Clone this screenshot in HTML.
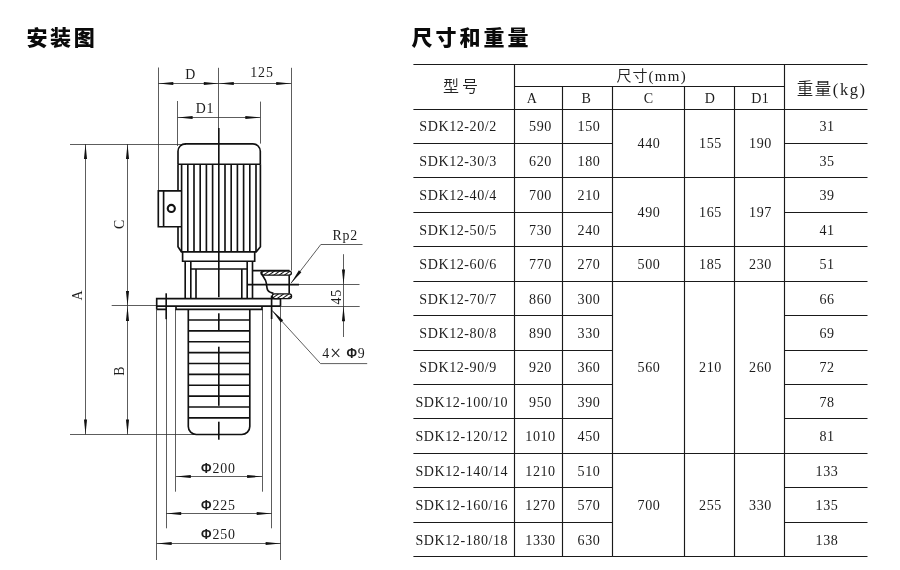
<!DOCTYPE html>
<html lang="zh-CN">
<head>
<meta charset="utf-8">
<title>安装图 尺寸和重量</title>
<style>
html,body{margin:0;padding:0;background:#fff;}
body{width:900px;height:570px;overflow:hidden;position:relative;font-family:"Liberation Serif","Noto Serif CJK SC",serif;}
svg{position:absolute;left:0;top:0;display:block;will-change:transform;}
.k{stroke:#111;stroke-width:1.65;fill:none;stroke-linecap:butt;stroke-linejoin:miter;}
.n{stroke:#333;stroke-width:0.8;fill:none;}
.a{fill:#111;stroke:none;}
.t{stroke:#1a1a1a;stroke-width:1.15;}
.s{font-family:"Liberation Serif","Noto Serif CJK SC",serif;fill:#1c1c1c;font-weight:400;}
.h{font-family:"Liberation Serif","Noto Sans CJK SC",sans-serif;fill:#222;font-weight:350;}
.p{font-family:"Liberation Sans","DejaVu Sans",sans-serif;font-weight:700;}
.b{font-family:"Liberation Sans","Noto Sans CJK SC",sans-serif;fill:#0a0a0a;font-weight:900;}
</style>
</head>
<body>
<svg width="900" height="570" viewBox="0 0 900 570">
<defs>
<pattern id="h" width="3" height="3" patternUnits="userSpaceOnUse" patternTransform="rotate(-35)">
<rect width="3" height="3" fill="#fff"/><line x1="0" y1="1.5" x2="3" y2="1.5" stroke="#111" stroke-width="1.0"/>
</pattern>
</defs>
<rect width="900" height="570" fill="#fff"/>
<text x="26.5" y="45.3" font-size="21" class="b" letter-spacing="2.6">安装图</text>
<text x="411.6" y="45.3" font-size="21" class="b" letter-spacing="3">尺寸和重量</text>
<g id="drawing">
<line x1="158.50" y1="67.50" x2="158.50" y2="190.80" class="n"/>
<line x1="218.50" y1="67.80" x2="218.50" y2="128.00" class="n"/>
<line x1="291.50" y1="67.80" x2="291.50" y2="270.60" class="n"/>
<line x1="158.30" y1="83.50" x2="291.20" y2="83.50" class="n"/>
<polygon points="158.30,83.50 173.30,81.95 173.30,85.05" class="a"/>
<polygon points="218.80,83.50 203.80,85.05 203.80,81.95" class="a"/>
<polygon points="218.80,83.50 233.80,81.95 233.80,85.05" class="a"/>
<polygon points="291.20,83.50 276.20,85.05 276.20,81.95" class="a"/>
<line x1="177.50" y1="101.00" x2="177.50" y2="146.00" class="n"/>
<line x1="260.50" y1="101.60" x2="260.50" y2="143.60" class="n"/>
<line x1="177.60" y1="117.50" x2="260.30" y2="117.50" class="n"/>
<polygon points="177.60,117.50 192.60,115.95 192.60,119.05" class="a"/>
<polygon points="260.30,117.50 245.30,119.05 245.30,115.95" class="a"/>
<line x1="70.00" y1="144.50" x2="186.00" y2="144.50" class="n"/>
<line x1="85.50" y1="144.00" x2="85.50" y2="434.50" class="n"/>
<polygon points="85.50,144.00 87.05,159.00 83.95,159.00" class="a"/>
<polygon points="85.50,434.50 83.95,419.50 87.05,419.50" class="a"/>
<line x1="127.50" y1="144.00" x2="127.50" y2="434.50" class="n"/>
<polygon points="127.50,144.00 129.05,159.00 125.95,159.00" class="a"/>
<polygon points="127.50,305.90 125.95,290.90 129.05,290.90" class="a"/>
<polygon points="127.50,305.90 129.05,320.90 125.95,320.90" class="a"/>
<polygon points="127.50,434.50 125.95,419.50 129.05,419.50" class="a"/>
<line x1="111.70" y1="305.50" x2="157.00" y2="305.50" class="n"/>
<line x1="70.00" y1="434.50" x2="197.00" y2="434.50" class="n"/>
<line x1="156.50" y1="309.40" x2="156.50" y2="560.00" class="n"/>
<line x1="166.50" y1="319.00" x2="166.50" y2="528.30" class="n"/>
<line x1="175.50" y1="309.40" x2="175.50" y2="491.70" class="n"/>
<line x1="262.50" y1="309.40" x2="262.50" y2="491.70" class="n"/>
<line x1="271.50" y1="319.00" x2="271.50" y2="528.30" class="n"/>
<line x1="280.50" y1="306.00" x2="280.50" y2="560.00" class="n"/>
<line x1="175.80" y1="476.50" x2="262.10" y2="476.50" class="n"/>
<polygon points="175.80,476.50 190.80,474.95 190.80,478.05" class="a"/>
<polygon points="262.10,476.50 247.10,478.05 247.10,474.95" class="a"/>
<line x1="166.20" y1="513.50" x2="271.70" y2="513.50" class="n"/>
<polygon points="166.20,513.50 181.20,511.95 181.20,515.05" class="a"/>
<polygon points="271.70,513.50 256.70,515.05 256.70,511.95" class="a"/>
<line x1="156.70" y1="543.50" x2="280.60" y2="543.50" class="n"/>
<polygon points="156.70,543.50 171.70,541.95 171.70,545.05" class="a"/>
<polygon points="280.60,543.50 265.60,545.05 265.60,541.95" class="a"/>
<line x1="299.00" y1="284.50" x2="359.50" y2="284.50" class="n"/>
<line x1="280.50" y1="306.50" x2="359.70" y2="306.50" class="n"/>
<line x1="343.50" y1="254.20" x2="343.50" y2="337.00" class="n"/>
<polygon points="343.50,284.60 341.95,269.60 345.05,269.60" class="a"/>
<polygon points="343.50,306.20 345.05,321.20 341.95,321.20" class="a"/>
<path d="M362.5,244.5 L320.8,244.5 L291,283.2" class="n" />
<polygon points="291.00,283.20 298.92,270.37 301.38,272.26" class="a"/>
<path d="M271.9,310.3 L320.5,363.6 L367.2,363.6" class="n" />
<polygon points="271.90,310.30 283.15,320.34 280.86,322.43" class="a"/>
<path d="M178,164.2 L178,151.3 A7.5,7.5 0 0 1 185.5,143.8 L252.8,143.8 A7.5,7.5 0 0 1 260.3,151.3 L260.3,164.2" class="k" />
<line x1="178.00" y1="164.20" x2="260.30" y2="164.20" class="k"/>
<path d="M178,164.2 L178,190.8 M178,226.7 L178,246.7 L181.4,251.8 L256.2,251.8 L260.4,246.7 L260.4,164.2" class="k" />
<line x1="181.60" y1="164.20" x2="181.60" y2="251.80" class="k"/>
<line x1="187.80" y1="164.20" x2="187.80" y2="251.80" class="k"/>
<line x1="194.00" y1="164.20" x2="194.00" y2="251.80" class="k"/>
<line x1="200.20" y1="164.20" x2="200.20" y2="251.80" class="k"/>
<line x1="206.40" y1="164.20" x2="206.40" y2="251.80" class="k"/>
<line x1="212.60" y1="164.20" x2="212.60" y2="251.80" class="k"/>
<line x1="225.00" y1="164.20" x2="225.00" y2="251.80" class="k"/>
<line x1="231.20" y1="164.20" x2="231.20" y2="251.80" class="k"/>
<line x1="237.40" y1="164.20" x2="237.40" y2="251.80" class="k"/>
<line x1="243.60" y1="164.20" x2="243.60" y2="251.80" class="k"/>
<line x1="249.80" y1="164.20" x2="249.80" y2="251.80" class="k"/>
<line x1="256.00" y1="164.20" x2="256.00" y2="251.80" class="k"/>
<path d="M181.6,190.8 L158.3,190.8 L158.3,226.7 L181.6,226.7 M163.6,190.8 L163.6,226.7" class="k" />
<circle cx="171.3" cy="208.4" r="3.55" fill="none" stroke="#111" stroke-width="2.1"/>
<path d="M182.6,251.8 L182.6,261.2 L254.7,261.2 L254.7,251.8" class="k" />
<line x1="185.20" y1="261.20" x2="185.20" y2="298.60" class="k"/>
<line x1="190.80" y1="261.20" x2="190.80" y2="298.60" class="k"/>
<line x1="247.20" y1="261.20" x2="247.20" y2="298.60" class="k"/>
<line x1="252.50" y1="261.20" x2="252.50" y2="298.60" class="k"/>
<line x1="196.00" y1="269.00" x2="196.00" y2="298.60" class="k"/>
<line x1="241.80" y1="269.00" x2="241.80" y2="298.60" class="k"/>
<line x1="190.80" y1="269.00" x2="247.20" y2="269.00" class="k"/>
<path d="M156.7,309.4 L156.7,298.6 L280.5,298.6 L280.5,306.1 M156.7,306.1 L280.5,306.1 M156.7,309.4 L166.2,309.4 M176,306.1 L176,309.4 L262,309.4 L262,306.1" class="k" />
<line x1="166.20" y1="293.30" x2="166.20" y2="319.20" class="k"/>
<line x1="271.60" y1="295.60" x2="271.60" y2="319.00" class="k"/>
<path d="M188.3,309.4 L188.3,426.5 A8,8 0 0 0 196.3,434.5 L241.8,434.5 A8,8 0 0 0 249.8,426.5 L249.8,309.4" class="k" />
<line x1="188.30" y1="320.00" x2="249.80" y2="320.00" class="k"/>
<line x1="188.30" y1="330.87" x2="249.80" y2="330.87" class="k"/>
<line x1="188.30" y1="341.74" x2="249.80" y2="341.74" class="k"/>
<line x1="188.30" y1="352.61" x2="249.80" y2="352.61" class="k"/>
<line x1="188.30" y1="363.48" x2="249.80" y2="363.48" class="k"/>
<line x1="188.30" y1="374.35" x2="249.80" y2="374.35" class="k"/>
<line x1="188.30" y1="385.22" x2="249.80" y2="385.22" class="k"/>
<line x1="188.30" y1="396.09" x2="249.80" y2="396.09" class="k"/>
<line x1="188.30" y1="406.96" x2="249.80" y2="406.96" class="k"/>
<line x1="188.30" y1="417.83" x2="249.80" y2="417.83" class="k"/>
<line x1="218.80" y1="128.00" x2="218.80" y2="297.20" class="k"/>
<line x1="218.80" y1="313.30" x2="218.80" y2="330.00" class="k"/>
<line x1="218.80" y1="346.70" x2="218.80" y2="405.80" class="k"/>
<line x1="218.80" y1="421.70" x2="218.80" y2="439.70" class="k"/>
<line x1="252.50" y1="270.60" x2="289.50" y2="270.60" class="k"/>
<rect x="261" y="271" width="30.4" height="4.2" rx="2.1" class="k" style="fill:url(#h);stroke-width:1.25"/>
<rect x="272.3" y="293.9" width="19.3" height="4.6" rx="2.3" class="k" style="fill:url(#h);stroke-width:1.25"/>
<line x1="247.50" y1="284.60" x2="299.00" y2="284.60" class="k"/>
<path d="M261.3,272 C262.5,278 265.5,277.5 266.3,283 C267,289.5 267,292.3 273.5,293.4" class="k" />
<line x1="289.20" y1="275.20" x2="289.20" y2="293.60" class="k"/>
</g>
<g id="labels">
<text transform="translate(190.80 78.70) scale(0.9 1)" font-size="15.4" text-anchor="middle" class="s" letter-spacing="0.95" >D</text>
<text transform="translate(262.00 76.60) scale(0.9 1)" font-size="15.4" text-anchor="middle" class="s" letter-spacing="0.95" >125</text>
<text transform="translate(205.00 112.50) scale(0.9 1)" font-size="15.4" text-anchor="middle" class="s" letter-spacing="0.95" >D1</text>
<text transform="translate(345.30 240.40) scale(0.9 1)" font-size="15.4" text-anchor="middle" class="s" letter-spacing="0.95" >Rp2</text>
<text transform="translate(341.30 296.70) rotate(-90) scale(0.9 1)" font-size="15.4" text-anchor="middle" class="s" letter-spacing="0.95" >45</text>
<text transform="translate(343.90 357.60) scale(0.9 1)" font-size="15.4" text-anchor="middle" class="s" letter-spacing="0.95" >4<tspan font-size="22" dy="2.2">×</tspan><tspan dy="-2.2"> </tspan><tspan class="p" font-size="14.2">Φ</tspan>9</text>
<text transform="translate(81.70 295.00) rotate(-90) scale(0.9 1)" font-size="15.4" text-anchor="middle" class="s" letter-spacing="0.95" >A</text>
<text transform="translate(124.00 370.70) rotate(-90) scale(0.9 1)" font-size="15.4" text-anchor="middle" class="s" letter-spacing="0.95" >B</text>
<text transform="translate(124.00 224.00) rotate(-90) scale(0.9 1)" font-size="15.4" text-anchor="middle" class="s" letter-spacing="0.95" >C</text>
<text transform="translate(218.40 473.40) scale(0.9 1)" font-size="15.4" text-anchor="middle" class="s" letter-spacing="0.95" ><tspan class="p" font-size="14.2">Φ</tspan>200</text>
<text transform="translate(218.40 509.80) scale(0.9 1)" font-size="15.4" text-anchor="middle" class="s" letter-spacing="0.95" ><tspan class="p" font-size="14.2">Φ</tspan>225</text>
<text transform="translate(218.40 538.80) scale(0.9 1)" font-size="15.4" text-anchor="middle" class="s" letter-spacing="0.95" ><tspan class="p" font-size="14.2">Φ</tspan>250</text>
</g>
<g id="table-lines">
<line x1="413.40" y1="64.50" x2="867.50" y2="64.50" class="t"/>
<line x1="514.30" y1="86.50" x2="784.40" y2="86.50" class="t"/>
<line x1="413.40" y1="109.50" x2="867.50" y2="109.50" class="t"/>
<line x1="413.40" y1="143.50" x2="612.60" y2="143.50" class="t"/>
<line x1="784.40" y1="143.50" x2="867.50" y2="143.50" class="t"/>
<line x1="413.40" y1="177.50" x2="612.60" y2="177.50" class="t"/>
<line x1="784.40" y1="177.50" x2="867.50" y2="177.50" class="t"/>
<line x1="612.60" y1="177.50" x2="784.40" y2="177.50" class="t"/>
<line x1="413.40" y1="212.50" x2="612.60" y2="212.50" class="t"/>
<line x1="784.40" y1="212.50" x2="867.50" y2="212.50" class="t"/>
<line x1="413.40" y1="246.50" x2="612.60" y2="246.50" class="t"/>
<line x1="784.40" y1="246.50" x2="867.50" y2="246.50" class="t"/>
<line x1="612.60" y1="246.50" x2="784.40" y2="246.50" class="t"/>
<line x1="413.40" y1="281.50" x2="612.60" y2="281.50" class="t"/>
<line x1="784.40" y1="281.50" x2="867.50" y2="281.50" class="t"/>
<line x1="612.60" y1="281.50" x2="784.40" y2="281.50" class="t"/>
<line x1="413.40" y1="315.50" x2="612.60" y2="315.50" class="t"/>
<line x1="784.40" y1="315.50" x2="867.50" y2="315.50" class="t"/>
<line x1="413.40" y1="350.50" x2="612.60" y2="350.50" class="t"/>
<line x1="784.40" y1="350.50" x2="867.50" y2="350.50" class="t"/>
<line x1="413.40" y1="384.50" x2="612.60" y2="384.50" class="t"/>
<line x1="784.40" y1="384.50" x2="867.50" y2="384.50" class="t"/>
<line x1="413.40" y1="418.50" x2="612.60" y2="418.50" class="t"/>
<line x1="784.40" y1="418.50" x2="867.50" y2="418.50" class="t"/>
<line x1="413.40" y1="453.50" x2="612.60" y2="453.50" class="t"/>
<line x1="784.40" y1="453.50" x2="867.50" y2="453.50" class="t"/>
<line x1="612.60" y1="453.50" x2="784.40" y2="453.50" class="t"/>
<line x1="413.40" y1="487.50" x2="612.60" y2="487.50" class="t"/>
<line x1="784.40" y1="487.50" x2="867.50" y2="487.50" class="t"/>
<line x1="413.40" y1="522.50" x2="612.60" y2="522.50" class="t"/>
<line x1="784.40" y1="522.50" x2="867.50" y2="522.50" class="t"/>
<line x1="413.40" y1="556.50" x2="612.60" y2="556.50" class="t"/>
<line x1="784.40" y1="556.50" x2="867.50" y2="556.50" class="t"/>
<line x1="612.60" y1="556.50" x2="784.40" y2="556.50" class="t"/>
<line x1="514.50" y1="64.50" x2="514.50" y2="556.72" class="t"/>
<line x1="784.50" y1="64.50" x2="784.50" y2="556.72" class="t"/>
<line x1="562.50" y1="86.70" x2="562.50" y2="556.72" class="t"/>
<line x1="612.50" y1="86.70" x2="612.50" y2="556.72" class="t"/>
<line x1="684.50" y1="86.70" x2="684.50" y2="556.72" class="t"/>
<line x1="734.50" y1="86.70" x2="734.50" y2="556.72" class="t"/>
</g>
<g id="table-text">
<text transform="translate(419.30 131.30) scale(1.035 1)" font-size="13.6" text-anchor="start" class="s" letter-spacing="0.55" >SDK12-20/2</text>
<text transform="translate(540.50 131.30) scale(1.035 1)" font-size="13.6" text-anchor="middle" class="s" letter-spacing="0.55" >590</text>
<text transform="translate(589.00 131.30) scale(1.035 1)" font-size="13.6" text-anchor="middle" class="s" letter-spacing="0.55" >150</text>
<text transform="translate(827.00 131.30) scale(1.035 1)" font-size="13.6" text-anchor="middle" class="s" letter-spacing="0.55" >31</text>
<text transform="translate(419.30 165.74) scale(1.035 1)" font-size="13.6" text-anchor="start" class="s" letter-spacing="0.55" >SDK12-30/3</text>
<text transform="translate(540.50 165.74) scale(1.035 1)" font-size="13.6" text-anchor="middle" class="s" letter-spacing="0.55" >620</text>
<text transform="translate(589.00 165.74) scale(1.035 1)" font-size="13.6" text-anchor="middle" class="s" letter-spacing="0.55" >180</text>
<text transform="translate(827.00 165.74) scale(1.035 1)" font-size="13.6" text-anchor="middle" class="s" letter-spacing="0.55" >35</text>
<text transform="translate(419.30 200.18) scale(1.035 1)" font-size="13.6" text-anchor="start" class="s" letter-spacing="0.55" >SDK12-40/4</text>
<text transform="translate(540.50 200.18) scale(1.035 1)" font-size="13.6" text-anchor="middle" class="s" letter-spacing="0.55" >700</text>
<text transform="translate(589.00 200.18) scale(1.035 1)" font-size="13.6" text-anchor="middle" class="s" letter-spacing="0.55" >210</text>
<text transform="translate(827.00 200.18) scale(1.035 1)" font-size="13.6" text-anchor="middle" class="s" letter-spacing="0.55" >39</text>
<text transform="translate(419.30 234.62) scale(1.035 1)" font-size="13.6" text-anchor="start" class="s" letter-spacing="0.55" >SDK12-50/5</text>
<text transform="translate(540.50 234.62) scale(1.035 1)" font-size="13.6" text-anchor="middle" class="s" letter-spacing="0.55" >730</text>
<text transform="translate(589.00 234.62) scale(1.035 1)" font-size="13.6" text-anchor="middle" class="s" letter-spacing="0.55" >240</text>
<text transform="translate(827.00 234.62) scale(1.035 1)" font-size="13.6" text-anchor="middle" class="s" letter-spacing="0.55" >41</text>
<text transform="translate(419.30 269.06) scale(1.035 1)" font-size="13.6" text-anchor="start" class="s" letter-spacing="0.55" >SDK12-60/6</text>
<text transform="translate(540.50 269.06) scale(1.035 1)" font-size="13.6" text-anchor="middle" class="s" letter-spacing="0.55" >770</text>
<text transform="translate(589.00 269.06) scale(1.035 1)" font-size="13.6" text-anchor="middle" class="s" letter-spacing="0.55" >270</text>
<text transform="translate(827.00 269.06) scale(1.035 1)" font-size="13.6" text-anchor="middle" class="s" letter-spacing="0.55" >51</text>
<text transform="translate(419.30 303.50) scale(1.035 1)" font-size="13.6" text-anchor="start" class="s" letter-spacing="0.55" >SDK12-70/7</text>
<text transform="translate(540.50 303.50) scale(1.035 1)" font-size="13.6" text-anchor="middle" class="s" letter-spacing="0.55" >860</text>
<text transform="translate(589.00 303.50) scale(1.035 1)" font-size="13.6" text-anchor="middle" class="s" letter-spacing="0.55" >300</text>
<text transform="translate(827.00 303.50) scale(1.035 1)" font-size="13.6" text-anchor="middle" class="s" letter-spacing="0.55" >66</text>
<text transform="translate(419.30 337.94) scale(1.035 1)" font-size="13.6" text-anchor="start" class="s" letter-spacing="0.55" >SDK12-80/8</text>
<text transform="translate(540.50 337.94) scale(1.035 1)" font-size="13.6" text-anchor="middle" class="s" letter-spacing="0.55" >890</text>
<text transform="translate(589.00 337.94) scale(1.035 1)" font-size="13.6" text-anchor="middle" class="s" letter-spacing="0.55" >330</text>
<text transform="translate(827.00 337.94) scale(1.035 1)" font-size="13.6" text-anchor="middle" class="s" letter-spacing="0.55" >69</text>
<text transform="translate(419.30 372.38) scale(1.035 1)" font-size="13.6" text-anchor="start" class="s" letter-spacing="0.55" >SDK12-90/9</text>
<text transform="translate(540.50 372.38) scale(1.035 1)" font-size="13.6" text-anchor="middle" class="s" letter-spacing="0.55" >920</text>
<text transform="translate(589.00 372.38) scale(1.035 1)" font-size="13.6" text-anchor="middle" class="s" letter-spacing="0.55" >360</text>
<text transform="translate(827.00 372.38) scale(1.035 1)" font-size="13.6" text-anchor="middle" class="s" letter-spacing="0.55" >72</text>
<text transform="translate(415.40 406.82) scale(1.035 1)" font-size="13.6" text-anchor="start" class="s" letter-spacing="0.55" >SDK12-100/10</text>
<text transform="translate(540.50 406.82) scale(1.035 1)" font-size="13.6" text-anchor="middle" class="s" letter-spacing="0.55" >950</text>
<text transform="translate(589.00 406.82) scale(1.035 1)" font-size="13.6" text-anchor="middle" class="s" letter-spacing="0.55" >390</text>
<text transform="translate(827.00 406.82) scale(1.035 1)" font-size="13.6" text-anchor="middle" class="s" letter-spacing="0.55" >78</text>
<text transform="translate(415.40 441.26) scale(1.035 1)" font-size="13.6" text-anchor="start" class="s" letter-spacing="0.55" >SDK12-120/12</text>
<text transform="translate(540.50 441.26) scale(1.035 1)" font-size="13.6" text-anchor="middle" class="s" letter-spacing="0.55" >1010</text>
<text transform="translate(589.00 441.26) scale(1.035 1)" font-size="13.6" text-anchor="middle" class="s" letter-spacing="0.55" >450</text>
<text transform="translate(827.00 441.26) scale(1.035 1)" font-size="13.6" text-anchor="middle" class="s" letter-spacing="0.55" >81</text>
<text transform="translate(415.40 475.70) scale(1.035 1)" font-size="13.6" text-anchor="start" class="s" letter-spacing="0.55" >SDK12-140/14</text>
<text transform="translate(540.50 475.70) scale(1.035 1)" font-size="13.6" text-anchor="middle" class="s" letter-spacing="0.55" >1210</text>
<text transform="translate(589.00 475.70) scale(1.035 1)" font-size="13.6" text-anchor="middle" class="s" letter-spacing="0.55" >510</text>
<text transform="translate(827.00 475.70) scale(1.035 1)" font-size="13.6" text-anchor="middle" class="s" letter-spacing="0.55" >133</text>
<text transform="translate(415.40 510.14) scale(1.035 1)" font-size="13.6" text-anchor="start" class="s" letter-spacing="0.55" >SDK12-160/16</text>
<text transform="translate(540.50 510.14) scale(1.035 1)" font-size="13.6" text-anchor="middle" class="s" letter-spacing="0.55" >1270</text>
<text transform="translate(589.00 510.14) scale(1.035 1)" font-size="13.6" text-anchor="middle" class="s" letter-spacing="0.55" >570</text>
<text transform="translate(827.00 510.14) scale(1.035 1)" font-size="13.6" text-anchor="middle" class="s" letter-spacing="0.55" >135</text>
<text transform="translate(415.40 544.58) scale(1.035 1)" font-size="13.6" text-anchor="start" class="s" letter-spacing="0.55" >SDK12-180/18</text>
<text transform="translate(540.50 544.58) scale(1.035 1)" font-size="13.6" text-anchor="middle" class="s" letter-spacing="0.55" >1330</text>
<text transform="translate(589.00 544.58) scale(1.035 1)" font-size="13.6" text-anchor="middle" class="s" letter-spacing="0.55" >630</text>
<text transform="translate(827.00 544.58) scale(1.035 1)" font-size="13.6" text-anchor="middle" class="s" letter-spacing="0.55" >138</text>
<text transform="translate(649.00 148.49) scale(1.035 1)" font-size="13.6" text-anchor="middle" class="s" letter-spacing="0.55" >440</text>
<text transform="translate(710.50 148.49) scale(1.035 1)" font-size="13.6" text-anchor="middle" class="s" letter-spacing="0.55" >155</text>
<text transform="translate(760.50 148.49) scale(1.035 1)" font-size="13.6" text-anchor="middle" class="s" letter-spacing="0.55" >190</text>
<text transform="translate(649.00 217.37) scale(1.035 1)" font-size="13.6" text-anchor="middle" class="s" letter-spacing="0.55" >490</text>
<text transform="translate(710.50 217.37) scale(1.035 1)" font-size="13.6" text-anchor="middle" class="s" letter-spacing="0.55" >165</text>
<text transform="translate(760.50 217.37) scale(1.035 1)" font-size="13.6" text-anchor="middle" class="s" letter-spacing="0.55" >197</text>
<text transform="translate(649.00 269.03) scale(1.035 1)" font-size="13.6" text-anchor="middle" class="s" letter-spacing="0.55" >500</text>
<text transform="translate(710.50 269.03) scale(1.035 1)" font-size="13.6" text-anchor="middle" class="s" letter-spacing="0.55" >185</text>
<text transform="translate(760.50 269.03) scale(1.035 1)" font-size="13.6" text-anchor="middle" class="s" letter-spacing="0.55" >230</text>
<text transform="translate(649.00 372.35) scale(1.035 1)" font-size="13.6" text-anchor="middle" class="s" letter-spacing="0.55" >560</text>
<text transform="translate(710.50 372.35) scale(1.035 1)" font-size="13.6" text-anchor="middle" class="s" letter-spacing="0.55" >210</text>
<text transform="translate(760.50 372.35) scale(1.035 1)" font-size="13.6" text-anchor="middle" class="s" letter-spacing="0.55" >260</text>
<text transform="translate(649.00 510.11) scale(1.035 1)" font-size="13.6" text-anchor="middle" class="s" letter-spacing="0.55" >700</text>
<text transform="translate(710.50 510.11) scale(1.035 1)" font-size="13.6" text-anchor="middle" class="s" letter-spacing="0.55" >255</text>
<text transform="translate(760.50 510.11) scale(1.035 1)" font-size="13.6" text-anchor="middle" class="s" letter-spacing="0.55" >330</text>
<text transform="translate(532.20 102.80) scale(1.035 1)" font-size="13.6" text-anchor="middle" class="s" letter-spacing="0.55" >A</text>
<text transform="translate(586.40 102.80) scale(1.035 1)" font-size="13.6" text-anchor="middle" class="s" letter-spacing="0.55" >B</text>
<text transform="translate(648.70 102.80) scale(1.035 1)" font-size="13.6" text-anchor="middle" class="s" letter-spacing="0.55" >C</text>
<text transform="translate(710.00 102.80) scale(1.035 1)" font-size="13.6" text-anchor="middle" class="s" letter-spacing="0.55" >D</text>
<text transform="translate(760.30 102.80) scale(1.035 1)" font-size="13.6" text-anchor="middle" class="s" letter-spacing="0.55" >D1</text>
<text x="443" y="92" font-size="16" class="h" letter-spacing="3">型号</text>
<text x="616.5" y="80.6" font-size="15" class="h" letter-spacing="1">尺寸<tspan class="s" font-size="15" letter-spacing="1.3">(mm)</tspan></text>
<text x="796.8" y="95" font-size="16.5" class="h" letter-spacing="1.5">重量<tspan class="s" font-size="16.5" letter-spacing="1.6">(kg)</tspan></text>
</g>
</svg>
</body>
</html>
